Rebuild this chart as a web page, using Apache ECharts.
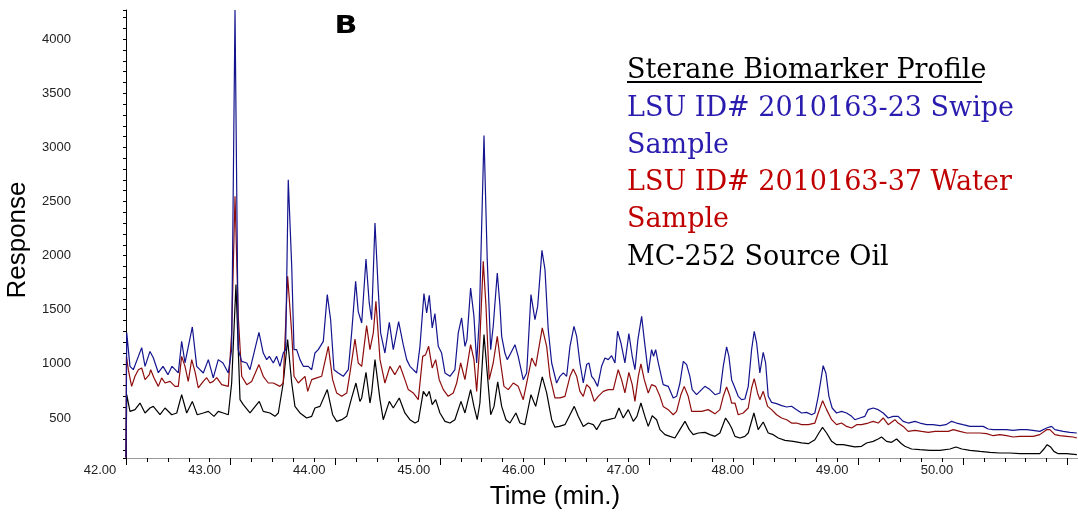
<!DOCTYPE html>
<html><head><meta charset="utf-8">
<script src="https://cdn.jsdelivr.net/npm/echarts@6/dist/echarts.min.js"></script>
<style>html,body{margin:0;padding:0;background:#fff}#c{width:1078px;height:515px}</style>
</head><body><div id="c"></div>
<script>
const xTickLabels = ['42.00','43.00','44.00','45.00','46.00','47.00','48.00','49.00','50.00'];
const yTickLabels = [500,1000,1500,2000,2500,3000,3500,4000];

// LSU ID# 2010163-23 Swipe Sample (blue)
const swipe = [
[42.25,135],[42.257,1286],[42.288,977],[42.320,946],[42.400,1150],[42.432,977],[42.479,1115],[42.511,1057],[42.559,918],[42.604,977],[42.651,900],[42.690,977],[42.750,916],[42.782,1208],[42.814,1010],[42.884,1341],[42.926,977],[42.957,946],[42.989,916],[43.037,1039],[43.084,870],[43.132,1039],[43.177,1008],[43.228,916],[43.260,1131],[43.292,4270],[43.323,1131],[43.356,1023],[43.404,1008],[43.435,946],[43.473,1100],[43.521,1291],[43.562,1100],[43.595,1039],[43.620,1069],[43.658,1008],[43.690,1069],[43.722,977],[43.753,1100],[43.776,1131],[43.801,2702],[43.834,1901],[43.856,1131],[43.881,1131],[43.913,1039],[43.945,977],[43.992,977],[44.025,946],[44.056,1100],[44.088,1131],[44.136,1208],[44.174,1640],[44.206,1408],[44.238,946],[44.279,916],[44.327,885],[44.375,946],[44.407,1286],[44.445,1762],[44.470,1483],[44.503,1378],[44.544,1969],[44.575,1563],[44.598,1408],[44.630,2302],[44.661,1686],[44.684,1286],[44.725,1100],[44.767,1384],[44.805,1131],[44.856,1390],[44.900,1177],[44.933,1039],[44.964,977],[44.996,946],[45.028,916],[45.060,1162],[45.098,1649],[45.124,1470],[45.149,1633],[45.177,1332],[45.203,1464],[45.235,1162],[45.267,1100],[45.299,916],[45.347,885],[45.394,946],[45.426,1286],[45.458,1424],[45.490,1162],[45.509,1224],[45.544,1701],[45.576,1439],[45.602,1008],[45.627,1408],[45.672,3109],[45.703,1963],[45.736,1131],[45.760,1347],[45.799,1840],[45.825,1532],[45.841,1254],[45.872,1100],[45.894,1039],[45.920,1085],[45.968,1177],[45.999,1069],[46.047,854],[46.080,916],[46.121,1640],[46.159,1408],[46.185,1531],[46.226,2049],[46.255,1871],[46.286,1316],[46.319,1008],[46.366,823],[46.398,885],[46.430,916],[46.462,885],[46.494,1162],[46.532,1347],[46.558,1254],[46.589,1008],[46.621,823],[46.653,993],[46.675,1008],[46.701,885],[46.726,854],[46.758,792],[46.796,977],[46.828,1054],[46.860,1039],[46.892,1076],[46.924,1008],[46.949,1301],[46.981,1193],[47.019,1008],[47.057,1279],[47.089,1070],[47.115,946],[47.143,1224],[47.179,1439],[47.204,1224],[47.242,916],[47.274,1131],[47.293,1070],[47.313,1131],[47.338,1008],[47.385,808],[47.433,792],[47.481,685],[47.513,700],[47.545,823],[47.577,1023],[47.609,993],[47.640,885],[47.662,762],[47.704,715],[47.752,762],[47.783,792],[47.832,762],[47.880,715],[47.927,731],[47.959,977],[47.991,1156],[48.013,1069],[48.039,854],[48.071,777],[48.102,700],[48.134,669],[48.166,675],[48.198,792],[48.230,1131],[48.255,1301],[48.278,1193],[48.309,916],[48.341,1107],[48.364,1008],[48.389,700],[48.421,644],[48.469,632],[48.517,614],[48.565,601],[48.612,608],[48.660,577],[48.708,546],[48.756,552],[48.804,530],[48.835,546],[48.867,700],[48.893,854],[48.914,983],[48.940,916],[48.969,700],[49.000,592],[49.042,546],[49.090,561],[49.138,546],[49.186,515],[49.217,484],[49.265,500],[49.313,515],[49.344,577],[49.392,592],[49.440,577],[49.488,546],[49.536,500],[49.583,515],[49.631,515],[49.679,469],[49.727,453],[49.791,469],[49.839,453],[49.903,438],[49.963,438],[50.030,429],[50.087,438],[50.142,469],[50.189,453],[50.250,438],[50.317,422],[50.380,422],[50.444,422],[50.491,398],[50.539,392],[50.603,392],[50.667,392],[50.730,385],[50.794,392],[50.858,392],[50.919,385],[50.985,376],[51.050,407],[51.097,422],[51.129,392],[51.208,376],[51.272,367],[51.339,361]
];

// LSU ID# 2010163-37 Water Sample (red)
const water = [
[42.25,135],[42.254,1069],[42.272,946],[42.304,792],[42.336,885],[42.368,946],[42.400,962],[42.432,854],[42.473,900],[42.486,946],[42.518,870],[42.559,792],[42.591,870],[42.623,823],[42.671,838],[42.718,792],[42.750,792],[42.782,1069],[42.814,977],[42.845,838],[42.878,1039],[42.909,931],[42.941,777],[42.989,838],[43.021,872],[43.053,823],[43.084,838],[43.117,872],[43.165,808],[43.228,792],[43.260,1286],[43.292,2548],[43.323,1439],[43.356,885],[43.404,808],[43.451,838],[43.521,993],[43.562,885],[43.610,823],[43.658,823],[43.722,792],[43.753,823],[43.795,1809],[43.834,1286],[43.856,885],[43.897,823],[43.961,885],[43.987,746],[44.025,854],[44.073,870],[44.120,885],[44.184,1162],[44.225,854],[44.264,730],[44.312,700],[44.360,730],[44.391,916],[44.439,1230],[44.470,1008],[44.503,977],[44.550,1353],[44.582,1131],[44.614,1286],[44.639,1578],[44.678,1039],[44.725,823],[44.773,977],[44.820,900],[44.868,985],[44.916,854],[44.948,762],[44.996,731],[45.044,669],[45.086,1069],[45.114,1085],[45.143,1162],[45.177,962],[45.210,1039],[45.244,854],[45.283,762],[45.330,700],[45.378,731],[45.411,823],[45.449,1008],[45.490,854],[45.544,1177],[45.576,1039],[45.602,746],[45.627,1100],[45.665,1947],[45.691,1532],[45.722,854],[45.760,1008],[45.799,1254],[45.831,1008],[45.863,792],[45.904,762],[45.952,823],[45.999,792],[46.047,669],[46.080,823],[46.128,1054],[46.166,977],[46.229,1332],[46.271,1162],[46.302,885],[46.350,685],[46.398,685],[46.446,700],[46.494,885],[46.525,953],[46.558,885],[46.589,746],[46.621,700],[46.653,808],[46.685,777],[46.726,653],[46.764,700],[46.812,746],[46.860,762],[46.908,762],[46.955,946],[46.987,854],[47.019,731],[47.057,922],[47.089,808],[47.115,653],[47.147,885],[47.172,999],[47.204,854],[47.242,731],[47.274,808],[47.313,792],[47.354,700],[47.385,607],[47.433,577],[47.481,530],[47.513,561],[47.554,715],[47.586,792],[47.624,700],[47.657,561],[47.704,561],[47.752,561],[47.815,577],[47.880,538],[47.927,577],[47.959,700],[47.991,786],[48.023,700],[48.039,638],[48.071,638],[48.102,530],[48.150,546],[48.198,592],[48.230,777],[48.255,863],[48.287,731],[48.309,669],[48.341,746],[48.383,607],[48.421,577],[48.469,530],[48.517,500],[48.565,484],[48.612,453],[48.660,453],[48.708,438],[48.772,438],[48.835,453],[48.867,546],[48.909,660],[48.947,577],[48.995,484],[49.042,438],[49.090,453],[49.138,422],[49.186,407],[49.234,438],[49.281,438],[49.344,453],[49.392,469],[49.440,453],[49.488,500],[49.536,438],[49.600,484],[49.631,453],[49.679,422],[49.727,376],[49.791,386],[49.855,376],[49.918,367],[49.983,376],[50.046,376],[50.110,376],[50.158,392],[50.221,376],[50.285,361],[50.349,361],[50.413,361],[50.476,355],[50.540,336],[50.603,346],[50.667,336],[50.730,324],[50.794,330],[50.858,330],[50.922,330],[50.985,346],[51.050,392],[51.081,392],[51.129,346],[51.177,336],[51.241,330],[51.304,324],[51.339,315]
];

// MC-252 Source Oil (black)
const source = [
[42.25,135],[42.257,715],[42.288,561],[42.336,577],[42.384,638],[42.432,546],[42.479,592],[42.511,607],[42.575,530],[42.623,592],[42.687,530],[42.735,546],[42.782,715],[42.830,546],[42.884,653],[42.931,530],[42.989,546],[43.037,561],[43.091,515],[43.132,561],[43.180,546],[43.228,530],[43.260,823],[43.301,1732],[43.340,669],[43.371,623],[43.435,546],[43.524,653],[43.562,561],[43.626,546],[43.674,515],[43.706,546],[43.753,823],[43.795,1224],[43.834,823],[43.865,607],[43.913,546],[43.977,500],[44.025,515],[44.056,592],[44.104,607],[44.174,762],[44.225,530],[44.264,469],[44.312,484],[44.360,515],[44.407,685],[44.448,823],[44.486,653],[44.503,685],[44.544,922],[44.582,638],[44.598,731],[44.630,1039],[44.678,669],[44.709,484],[44.767,653],[44.805,592],[44.862,685],[44.916,546],[44.964,484],[45.012,453],[45.044,469],[45.092,746],[45.124,700],[45.149,746],[45.177,623],[45.210,669],[45.251,546],[45.299,469],[45.347,453],[45.394,484],[45.452,653],[45.490,546],[45.544,762],[45.576,607],[45.607,484],[45.633,638],[45.672,1270],[45.703,916],[45.736,530],[45.768,607],[45.803,833],[45.841,607],[45.882,484],[45.920,453],[45.977,546],[46.016,453],[46.063,438],[46.121,715],[46.166,607],[46.229,879],[46.271,731],[46.319,484],[46.350,415],[46.391,422],[46.446,438],[46.494,530],[46.535,607],[46.573,515],[46.621,422],[46.669,453],[46.717,438],[46.749,392],[46.796,469],[46.860,484],[46.924,500],[46.962,592],[47.003,500],[47.051,577],[47.099,469],[47.134,515],[47.172,638],[47.210,515],[47.242,422],[47.280,521],[47.322,484],[47.354,392],[47.402,346],[47.450,330],[47.497,315],[47.545,392],[47.593,469],[47.634,392],[47.672,346],[47.720,361],[47.784,367],[47.832,346],[47.880,330],[47.927,361],[47.981,500],[48.013,453],[48.039,407],[48.071,330],[48.118,315],[48.166,330],[48.198,361],[48.252,546],[48.293,392],[48.341,463],[48.389,361],[48.437,346],[48.485,315],[48.549,293],[48.628,284],[48.708,269],[48.772,262],[48.835,299],[48.873,361],[48.908,413],[48.947,361],[48.995,284],[49.042,253],[49.106,253],[49.154,244],[49.217,232],[49.281,238],[49.329,269],[49.392,284],[49.440,306],[49.472,324],[49.520,284],[49.568,275],[49.616,306],[49.663,262],[49.695,238],[49.759,213],[49.839,207],[49.935,201],[50.030,201],[50.126,213],[50.183,232],[50.240,213],[50.317,201],[50.413,191],[50.508,182],[50.603,176],[50.699,176],[50.794,170],[50.890,170],[50.985,170],[51.024,213],[51.055,253],[51.088,232],[51.119,191],[51.161,170],[51.241,170],[51.339,161]
];

const sans = 'Liberation Sans';
const serif = 'DejaVu Serif';

const chart = echarts.init(document.getElementById('c'), null, {renderer: 'canvas'});
chart.setOption({
  animation: false,
  backgroundColor: '#fff',
  grid: {left: 126, right: 0, top: 10, bottom: 57, containLabel: false, outerBoundsMode: 'none'},
  xAxis: [{
    type: 'value', min: 42.25, max: 51.35, interval: 1, position: 'bottom',
    axisLine: {show: true, lineStyle: {color: '#9a9a9a', width: 1}},
    axisTick: {show: true, length: 7, lineStyle: {color: '#000'}},
    splitLine: {show: false},
    axisLabel: {
      show: true, showMinLabel: true, showMaxLabel: true, interval: 0,
      margin: 6, fontSize: 13, color: '#222', fontFamily: sans,
      padding: [0, 52, 0, 0],
      formatter: function (v) {
        const i = Math.round(v - 42.25);
        if (Math.abs(v - 42.25 - i) > 1e-6) return '';
        return xTickLabels[i] || '';
      }
    },
    name: 'Time (min.)', nameLocation: 'middle', nameGap: 26,
    nameTextStyle: {fontSize: 26, fontFamily: sans, color: '#000', padding: [0, 94, 0, 0]}
  }, {
    type: 'value', min: 42.25, max: 51.35, interval: 0.2, position: 'bottom',
    axisLine: {show: false},
    axisTick: {show: true, length: 4, lineStyle: {color: '#000'}},
    axisLabel: {show: false},
    splitLine: {show: false}
  }],
  yAxis: {
    type: 'value', min: 130, max: 4270, minInterval: 100, maxInterval: 100,
    axisLine: {show: true, lineStyle: {color: '#000', width: 1}},
    axisTick: {show: true, length: 3, lineStyle: {color: '#000'}},
    splitLine: {show: false},
    axisLabel: {
      show: true, margin: 55, fontSize: 13, color: '#222', fontFamily: sans,
      formatter: function (v) { return yTickLabels.indexOf(Math.round(v)) >= 0 && Math.abs(v - Math.round(v)) < 1e-6 ? String(Math.round(v)) : ''; }
    },
    name: 'Response', nameLocation: 'middle', nameGap: 93, nameRotate: 90,
    nameTextStyle: {fontSize: 26, fontFamily: sans, color: '#000', padding: [0, 12, 0, 0]}
  },
  series: [
    {name: 'MC-252 Source Oil', type: 'line', data: source, xAxisIndex: 0, showSymbol: false, symbol: 'none', silent: true, clip: true,
     lineStyle: {width: 1.2, color: '#000'}, itemStyle: {color: '#000'}, z: 2},
    {name: 'LSU ID# 2010163-37 Water Sample', type: 'line', data: water, xAxisIndex: 0, showSymbol: false, symbol: 'none', silent: true, clip: true,
     lineStyle: {width: 1.2, color: '#8e0c0c'}, itemStyle: {color: '#8e0c0c'}, z: 3},
    {name: 'LSU ID# 2010163-23 Swipe Sample', type: 'line', data: swipe, xAxisIndex: 0, showSymbol: false, symbol: 'none', silent: true, clip: true,
     lineStyle: {width: 1.2, color: '#14148f'}, itemStyle: {color: '#14148f'}, z: 4}
  ],
  graphic: [
    {type: 'text', x: 346, y: 27, scaleX: 1.25, style: {text: 'B', fontSize: 24, fontWeight: 'bold', fontFamily: 'DejaVu Sans', fill: '#000', align: 'center', verticalAlign: 'middle'}},
    {type: 'text', x: 627, y: 71, style: {text: 'Sterane Biomarker Profile', fontSize: 27, fontFamily: serif, fill: '#000', align: 'left', verticalAlign: 'middle'}},
    {type: 'line', shape: {x1: 627, y1: 82, x2: 982, y2: 82}, style: {stroke: '#000', lineWidth: 2}},
    {type: 'text', x: 627, y: 109, style: {text: 'LSU ID# 2010163-23 Swipe', fontSize: 27, fontFamily: serif, fill: '#2a1cae', align: 'left', verticalAlign: 'middle'}},
    {type: 'text', x: 627, y: 146, style: {text: 'Sample', fontSize: 27, fontFamily: serif, fill: '#2a1cae', align: 'left', verticalAlign: 'middle'}},
    {type: 'text', x: 627, y: 183, style: {text: 'LSU ID# 2010163-37 Water', fontSize: 27, fontFamily: serif, fill: '#c00000', align: 'left', verticalAlign: 'middle'}},
    {type: 'text', x: 627, y: 220, style: {text: 'Sample', fontSize: 27, fontFamily: serif, fill: '#c00000', align: 'left', verticalAlign: 'middle'}},
    {type: 'text', x: 627, y: 258, style: {text: 'MC-252 Source Oil', fontSize: 27, fontFamily: serif, fill: '#000', align: 'left', verticalAlign: 'middle'}}
  ]
});
</script>
</body></html>
